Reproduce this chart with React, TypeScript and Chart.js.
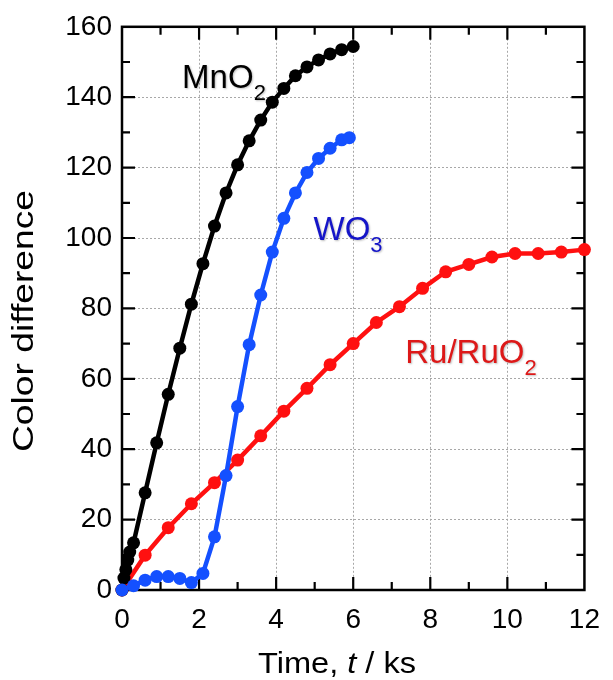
import React, { useEffect, useRef } from "react";
import { Chart, registerables } from "chart.js";

Chart.register(...registerables);

// ---- data ----
const mno2Time = [0, 0.05, 0.1, 0.15, 0.2, 0.3, 0.6, 0.9, 1.2, 1.5, 1.8, 2.1, 2.4, 2.7, 3.0, 3.3, 3.6, 3.9, 4.2, 4.5, 4.8, 5.1, 5.4, 5.7, 6.0];
const mno2Diff = [0, 3.4, 5.8, 8.5, 10.8, 13.4, 27.6, 41.8, 55.6, 68.7, 81.2, 92.7, 103.4, 112.8, 120.8, 127.6, 133.5, 138.6, 142.5, 146.1, 148.6, 150.6, 152.3, 153.5, 154.4];

const wo3Time = [0, 0.3, 0.6, 0.9, 1.2, 1.5, 1.8, 2.1, 2.4, 2.7, 3.0, 3.3, 3.6, 3.9, 4.2, 4.5, 4.8, 5.1, 5.4, 5.7, 5.9];
const wo3Diff = [0, 1.2, 2.8, 3.8, 3.8, 3.3, 2.1, 4.7, 15.1, 32.5, 52.1, 69.7, 83.8, 96.0, 105.6, 112.8, 118.6, 122.6, 125.5, 127.9, 128.5];

const ruTime = [0, 0.6, 1.2, 1.8, 2.4, 3.0, 3.6, 4.2, 4.8, 5.4, 6.0, 6.6, 7.2, 7.8, 8.4, 9.0, 9.6, 10.2, 10.8, 11.4, 12.0];
const ruDiff = [0, 9.9, 17.7, 24.5, 30.5, 36.9, 43.8, 50.8, 57.3, 64.0, 70.0, 76.0, 80.5, 85.7, 90.4, 92.5, 94.6, 95.6, 95.6, 96.0, 96.7];

const seriesNames = ["MnO2", "WO3", "Ru/RuO2"];
const xRange = [0, 12];
const yRange = [0, 160];
const xMajorStep = 2;
const xMinorStep = 1;
const yMajorStep = 20;
const yMinorStep = 10;
const xTitle = ["Time, ", "t", " / ks"];
const yTitle = "Color difference";

const FONT = "'Liberation Sans', Arial, sans-serif";

function toPoints(xs: number[], ys: number[]) {
  return xs.map((x, i) => ({ x, y: ys[i] }));
}

const framePlugin = {
  id: "frame",
  beforeDatasetsDraw(chart: any) {
    const { ctx, chartArea: a, scales } = chart;
    const xs = scales.x, ys = scales.y;
    ctx.save();
    ctx.strokeStyle = "#000";
    ctx.lineWidth = 2.5;
    ctx.strokeRect(a.left, a.top, a.right - a.left, a.bottom - a.top);
    ctx.lineWidth = 2.2;
    ctx.beginPath();
    for (let v = xRange[0] + xMinorStep; v < xRange[1]; v += xMinorStep) {
      const major = Math.abs(v / xMajorStep - Math.round(v / xMajorStep)) < 1e-6;
      const len = major ? 13 : 8;
      const px = xs.getPixelForValue(v);
      ctx.moveTo(px, a.bottom);
      ctx.lineTo(px, a.bottom - len);
      ctx.moveTo(px, a.top);
      ctx.lineTo(px, a.top + len);
    }
    for (let v = yRange[0] + yMinorStep; v < yRange[1]; v += yMinorStep) {
      const major = Math.abs(v / yMajorStep - Math.round(v / yMajorStep)) < 1e-6;
      const len = major ? 13 : 8;
      const py = ys.getPixelForValue(v);
      ctx.moveTo(a.left, py);
      ctx.lineTo(a.left + len, py);
      ctx.moveTo(a.right, py);
      ctx.lineTo(a.right - len, py);
    }
    ctx.stroke();
    ctx.restore();
  },
  afterDatasetsDraw(chart: any) {
    const { ctx, scales } = chart;
    const xs = scales.x, ys = scales.y;
    const labels = [
      { text: "MnO", sub: "2", x: 1.56, y: 142.7, color: "#000000" },
      { text: "WO", sub: "3", x: 4.97, y: 99.4, color: "#1515c8" },
      { text: "Ru/RuO", sub: "2", x: 7.35, y: 64.4, color: "#dd1818" },
    ];
    ctx.save();
    ctx.shadowColor = "rgba(0,0,0,0.25)";
    ctx.shadowBlur = 2;
    ctx.shadowOffsetX = 1;
    ctx.shadowOffsetY = 1;
    ctx.textBaseline = "alphabetic";
    ctx.textAlign = "left";
    for (const l of labels) {
      const px = xs.getPixelForValue(l.x);
      const py = ys.getPixelForValue(l.y);
      ctx.fillStyle = l.color;
      ctx.font = `33px ${FONT}`;
      ctx.fillText(l.text, px, py);
      const w = ctx.measureText(l.text).width;
      ctx.font = `22px ${FONT}`;
      ctx.fillText(l.sub, px + w, py + 12);
    }
    ctx.restore();

    // axis titles
    ctx.save();
    ctx.fillStyle = "#000";
    ctx.textBaseline = "alphabetic";
    const parts = xTitle;
    const fonts = [`30px ${FONT}`, `italic 30px ${FONT}`, `30px ${FONT}`];
    let total = 0;
    const widths: number[] = [];
    parts.forEach((p, i) => {
      ctx.font = fonts[i];
      const w = ctx.measureText(p).width;
      widths.push(w);
      total += w;
    });
    const targetW = 158;
    const sx = targetW / total;
    ctx.translate(337 - targetW / 2, 673);
    ctx.scale(sx, 1);
    let cx = 0;
    parts.forEach((p, i) => {
      ctx.font = fonts[i];
      ctx.fillText(p, cx, 0);
      cx += widths[i];
    });
    ctx.restore();

    ctx.save();
    ctx.fillStyle = "#000";
    ctx.font = `29px ${FONT}`;
    const yw = ctx.measureText(yTitle).width;
    const targetYW = 262;
    ctx.translate(33, 321);
    ctx.rotate(-Math.PI / 2);
    ctx.scale(targetYW / yw, 1);
    ctx.textAlign = "center";
    ctx.fillText(yTitle, 0, 0);
    ctx.restore();
  },
};

export default function App() {
  const ref = useRef<HTMLCanvasElement>(null);
  useEffect(() => {
    document.body.style.margin = "0";
    const gridColor = (max: number) => (c: any) =>
      c.tick && (c.tick.value === 0 || c.tick.value === max) ? "rgba(0,0,0,0)" : "#a8a8a8";
    const mk = (i: number, t: number[], d: number[], color: string) => ({
      label: seriesNames[i],
      data: toPoints(t, d),
      showLine: true,
      borderColor: color,
      backgroundColor: color,
      borderWidth: 4.5,
      pointRadius: 6.5,
      pointBorderWidth: 0,
      clip: false as any,
    });
    const chart = new Chart(ref.current!, {
      type: "scatter",
      data: {
        datasets: [
          mk(1, wo3Time, wo3Diff, "#1450ff"),
          mk(0, mno2Time, mno2Diff, "#000000"),
          mk(2, ruTime, ruDiff, "#ff1010"),
        ],
      },
      options: {
        responsive: false,
        animation: false,
        layout: { padding: { top: 24, right: 20, left: 0, bottom: 0 } },
        plugins: { legend: { display: false }, tooltip: { enabled: false } },
        scales: {
          x: {
            type: "linear",
            min: xRange[0],
            max: xRange[1],
            afterFit: (s: any) => { s.height = 90; },
            ticks: { stepSize: xMajorStep, color: "#000", font: { family: FONT, size: 28 }, padding: 13, maxRotation: 0 },
            grid: { drawTicks: false, color: gridColor(xRange[1]), lineWidth: 1 },
            border: { display: false, dash: [2, 2] },
          },
          y: {
            type: "linear",
            min: yRange[0],
            max: yRange[1],
            afterFit: (s: any) => { s.width = 122; },
            ticks: { stepSize: yMajorStep, color: "#000", font: { family: FONT, size: 28 }, padding: 10 },
            grid: { drawTicks: false, color: gridColor(yRange[1]), lineWidth: 1 },
            border: { display: false, dash: [2, 2] },
          },
        },
      },
      plugins: [framePlugin],
    });
    return () => chart.destroy();
  }, []);
  return (
    <div style={{ width: 613, height: 680, background: "#fff" }}>
      <canvas ref={ref} width={613} height={680} />
    </div>
  );
}
